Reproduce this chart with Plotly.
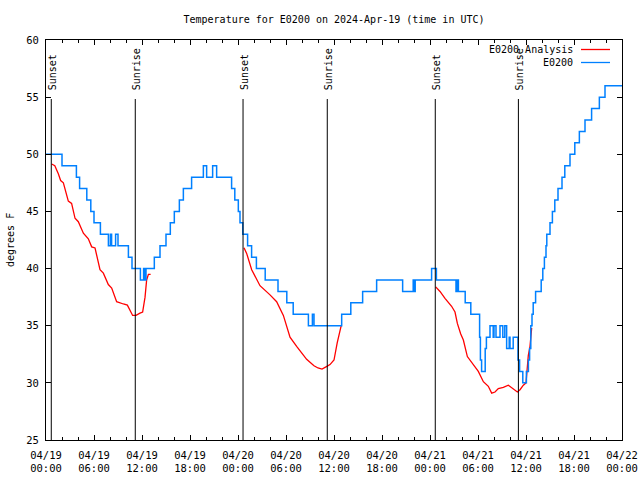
import plotly.graph_objects as go
from datetime import datetime, timedelta

# ---------------- data ----------------
start_time = "2024-04-19 00:00"
span_hours = 72

# observed E0200 temperature (hours since start, deg F) - step changes
obs_hours = [0.0, 2.0, 3.8, 4.2, 5.1, 5.6, 6.0, 6.8, 7.8, 8.05, 8.2, 8.7, 9.0, 10.3, 10.75,
             11.8, 12.2, 12.35, 12.5, 13.54, 14.25, 15.0, 15.54, 16.04, 16.67, 17.17, 18.2,
             19.67, 20.08, 20.83, 21.33, 23.2, 23.6, 24.04, 24.25, 24.6, 25.2, 25.7, 26.3,
             27.4, 29.0, 30.1, 30.9, 32.8, 33.3, 33.5, 36.96, 38.1, 39.58, 41.33, 44.58,
             45.9, 46.05, 46.15, 48.2, 48.8, 51.25, 51.4, 51.55, 52.4, 53.1, 54.2, 54.3,
             54.45, 54.9, 55.05, 55.5, 55.9, 56.0, 56.25, 56.75, 57.1, 57.35, 57.58, 57.9,
             58.0, 58.4, 59.0, 59.2, 59.6, 60.05, 60.3, 60.45, 60.6, 60.75, 60.9, 61.2,
             61.9, 62.1, 62.3, 62.5, 62.6, 63.0, 63.3, 63.6, 64.0, 64.5, 64.85, 65.5, 66.1,
             66.67, 67.375, 68.2, 69.17, 69.875, 72.0]
obs_temps = [50, 49, 48, 47, 46, 45, 44, 43, 42, 43, 42, 43, 42, 41, 40,
             39, 40, 39, 40, 41, 42, 43, 44, 45, 46, 47, 48,
             49, 48, 49, 48, 47, 46, 45, 44, 43, 42, 41, 40,
             39, 38, 37, 36, 35, 36, 35, 36, 37, 38, 39, 38,
             39, 38, 39, 40, 39, 38, 39, 38, 37, 36, 34, 32,
             31, 33, 34, 35, 34, 35, 34, 35, 34, 35, 33, 34,
             33, 34, 32, 31, 30, 31, 32, 33, 35, 36, 37, 38,
             39, 40, 41, 42, 43, 44, 45, 46, 47, 48, 49, 50, 51,
             52, 53, 54, 55, 56, 56]

# analysis (three night-time segments)
ana_hours_1 = [0.71, 1.1, 1.54, 1.83, 2.17, 2.79, 3.2, 3.63, 4.04, 4.67, 5.29, 5.71, 6.13,
               6.75, 7.17, 7.79, 8.21, 8.83, 9.67, 10.17, 10.83, 11.25, 11.75, 12.08,
               12.38, 12.58, 12.8, 13.08]
ana_temps_1 = [49.15, 49.0, 48.3, 47.7, 47.5, 45.9, 45.7, 44.4, 44.1, 43.1, 42.6, 41.9, 41.8,
               39.9, 39.6, 38.6, 38.3, 37.1, 36.9, 36.8, 35.9, 35.9, 36.1, 36.2,
               37.5, 39.0, 39.5, 39.5]
ana_hours_2 = [24.75, 25.08, 25.71, 26.75, 28.0, 28.83, 29.67, 30.5, 31.33, 32.58, 33.0,
               33.5, 34.0, 34.5, 35.0, 35.5, 36.0, 36.4, 36.9]
ana_temps_2 = [41.83, 41.33, 39.9, 38.5, 37.7, 37.1, 35.9, 34.0, 33.2, 32.06, 31.8,
               31.5, 31.3, 31.2, 31.4, 31.6, 32.0, 33.5, 35.0]
ana_hours_3 = [48.71, 49.25, 49.875, 50.7, 51.125, 51.42, 51.83, 52.17, 52.67, 53.42, 54.04,
               54.67, 55.29, 55.71, 56.125, 56.54, 57.17, 57.79, 58.42, 58.92, 59.25,
               59.67, 60.0, 60.29, 60.5, 60.71]
ana_temps_3 = [38.4, 38.0, 37.4, 36.7, 36.2, 35.2, 34.3, 33.75, 32.3, 31.6, 31.0,
               30.1, 29.7, 29.1, 29.2, 29.5, 29.6, 29.8, 29.5, 29.2, 29.4,
               29.8, 30.0, 32.4, 33.2, 34.8]

# sun events (hours since start)
event_hours = [0.66, 11.16, 24.63, 35.16, 48.66, 59.05]
event_labels = ["Sunset", "Sunrise", "Sunset", "Sunrise", "Sunset", "Sunrise"]

y_ticks = [25, 30, 35, 40, 45, 50, 55, 60]
series_names = ["E0200 Analysis", "E0200"]
series_colors = ["#ff0000", "#0080ff"]

# ---------------- build ----------------
base = datetime.strptime(start_time, "%Y-%m-%d %H:%M")
def to_t(hs):
    return [base + timedelta(hours=h) for h in hs]

ana_x, ana_y = [], []
for hs, vs in [(ana_hours_1, ana_temps_1), (ana_hours_2, ana_temps_2), (ana_hours_3, ana_temps_3)]:
    ana_x += to_t(hs) + [None]
    ana_y += vs + [None]

FONT = "DejaVu Sans Mono"
W, H = 640, 480
ML, MR, MT, MB = 46, 18, 40, 40
PW = W - ML - MR   # 576
PH = H - MT - MB   # 400
def px_x(px):  # page x pixel -> paper x
    return (px - ML) / PW
def px_y(py):  # page y pixel -> paper y
    return (H - MB - py) / PH

fig = go.Figure()
fig.add_trace(go.Scatter(x=ana_x, y=ana_y, mode="lines", name=series_names[0],
                         line=dict(color=series_colors[0], width=1.3), connectgaps=False,
                         showlegend=False))
fig.add_trace(go.Scatter(x=to_t(obs_hours), y=obs_temps, mode="lines", name=series_names[1],
                         line=dict(color=series_colors[1], width=1.5, shape="hv"),
                         showlegend=False))

# sunrise / sunset lines and labels
for h, lab in zip(event_hours, event_labels):
    t = base + timedelta(hours=h)
    fig.add_shape(type="line", xref="x", yref="paper", x0=t, x1=t, y0=0, y1=px_y(99),
                  line=dict(color="black", width=1))
    fig.add_annotation(x=t, xref="x", y=px_y(92), yref="paper", text=lab, textangle=-90,
                       showarrow=False, xanchor="center", yanchor="bottom", xshift=1,
                       font=dict(family=FONT, size=10, color="black"))

# legend (gnuplot style: text left, sample right)
leg_rows = [49.5, 62.5]
for name, col, yy in zip(series_names, series_colors, leg_rows):
    fig.add_annotation(x=px_x(575), y=px_y(yy), xref="paper", yref="paper", text=name,
                       showarrow=False, xanchor="right", yanchor="middle",
                       font=dict(family=FONT, size=10, color="black"))
    fig.add_shape(type="line", xref="paper", yref="paper", x0=px_x(581),
                  x1=px_x(610), y0=px_y(yy), y1=px_y(yy), line=dict(color=col, width=1.3))

# y-axis title
fig.add_annotation(x=px_x(10), y=0.5, xref="paper", yref="paper", text="degrees F",
                   textangle=-90, showarrow=False, xanchor="center", yanchor="middle",
                   font=dict(family=FONT, size=10, color="black"))

fig.update_layout(
    width=W, height=H,
    margin=dict(l=ML, r=MR, t=MT, b=MB, autoexpand=False),
    paper_bgcolor="white", plot_bgcolor="white",
    font=dict(family=FONT, size=10, color="black"),
    title=dict(text="Temperature for E0200 on 2024-Apr-19 (time in UTC)",
               x=0.5, xref="paper", y=1 - 19 / H, yref="container",
               xanchor="center", yanchor="middle",
               font=dict(family=FONT, size=10, color="black")),
    showlegend=False,
)
fig.update_xaxes(
    type="date", range=[base, base + timedelta(hours=span_hours)],
    tick0=base, dtick=6 * 3600 * 1000, tickformat="%m/%d<br>%H:%M",
    ticks="inside", ticklen=5, tickcolor="black", tickwidth=1,
    minor=dict(dtick=2 * 3600 * 1000, ticks="inside", ticklen=3, tickcolor="black", showgrid=False),
    showline=True, linecolor="black", linewidth=1, mirror="allticks",
    showgrid=False, zeroline=False, ticklabelstandoff=5, automargin=False,
    tickfont=dict(family=FONT, size=10.5, color="black"),
)
fig.update_yaxes(
    range=[25, 60], tickvals=y_ticks,
    ticks="inside", ticklen=5, tickcolor="black", tickwidth=1,
    showline=True, linecolor="black", linewidth=1, mirror="allticks",
    showgrid=False, zeroline=False, ticklabelstandoff=4, automargin=False,
    tickfont=dict(family=FONT, size=10.5, color="black"),
)

# remove the default 8px page margin so the 640x480 figure fills the window
fig.write_html("out.html", config={"displayModeBar": False},
               post_script="document.body.style.margin='0';document.body.style.overflow='hidden';")
